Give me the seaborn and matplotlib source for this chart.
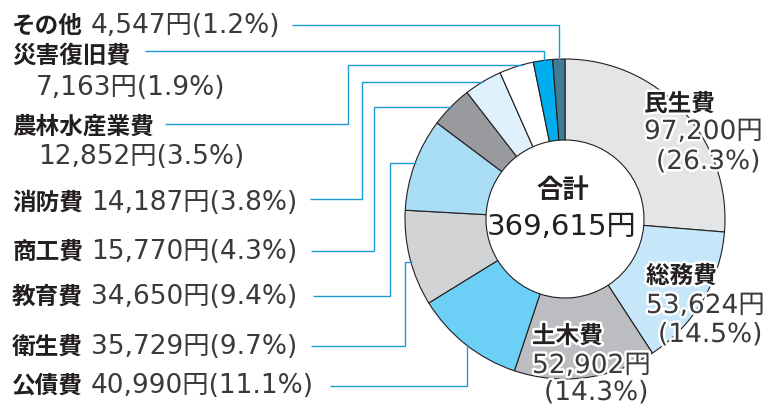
import numpy as np
import matplotlib
matplotlib.use("Agg")
import matplotlib.pyplot as plt
import matplotlib.patheffects as pe
import seaborn as sns

# ---- data (clockwise from 12 o'clock) ----
categories = ["民生費", "総務費", "土木費", "公債費", "衛生費", "教育費",
              "商工費", "消防費", "農林水産業費", "災害復旧費", "その他"]
amounts = [97200, 53624, 52902, 40990, 35729, 34650,
           15770, 14187, 12852, 7163, 4547]
percents = [26.3, 14.5, 14.3, 11.1, 9.7, 9.4, 4.3, 3.8, 3.5, 1.9, 1.2]
total_label = "369,615円"
colors = ["#e4e5e7", "#c6e7f9", "#bcbdc0", "#6ccff5", "#d2d3d5", "#a9dcf5",
          "#999a9d", "#dff1fc", "#ffffff", "#00adee", "#3e7d93"]

sns.set_theme(style="white")
plt.rcParams['font.family'] = ['Noto Sans CJK JP', 'DejaVu Sans']
NUM_FAMILY = ['DejaVu Sans', 'Noto Sans CJK JP']

W, H = 783, 406
fig = plt.figure(figsize=(W / 100, H / 100), dpi=100)
ax = fig.add_axes([0, 0, 1, 1])

def Y(py):
    return H - py

CX, CY, R, RIN = 565, 220, 160, 79
ax.pie(amounts, colors=colors, startangle=90, counterclock=False,
       center=(CX, Y(CY)), radius=R,
       wedgeprops=dict(width=R - RIN, edgecolor="#231f20", linewidth=0.8))
ax.set_xlim(0, W)
ax.set_ylim(0, H)
ax.set_aspect("equal")
ax.axis("off")

NAME_C = "#231f20"
NUM_C = "#3a3a3a"
LINE_C = "#1b9ad6"
FS_NAME = 17
FS_NUM = 19

def fmt_amt(i):
    return f"{amounts[i]:,}円"

def fmt_pct(i):
    return f"({percents[i]}%)"

idx = {c: i for i, c in enumerate(categories)}

# ---- left labels ----
def left_label(cat, y, x_num, y_num=None):
    i = idx[cat]
    ax.text(12, Y(y), cat, fontsize=FS_NAME, fontweight="bold", color=NAME_C,
            ha="left", va="center")
    yy = y if y_num is None else y_num
    ax.text(x_num, Y(yy), fmt_amt(i) + fmt_pct(i), fontsize=FS_NUM,
            family=NUM_FAMILY, color=NUM_C, ha="left", va="center")

left_label("その他", 26, 91)
left_label("災害復旧費", 56, 36, 88)
left_label("農林水産業費", 127, 38, 157)
left_label("消防費", 203, 91)
left_label("商工費", 252, 91)
left_label("教育費", 297, 91)
left_label("衛生費", 347, 91)
left_label("公債費", 386, 91)

# ---- leader lines ----
def ring_x(py):
    return CX - np.sqrt(R ** 2 - (py - CY) ** 2)

def ring_y(px):
    return CY - np.sqrt(R ** 2 - (px - CX) ** 2)

def ring_y_low(px):
    return CY + np.sqrt(R ** 2 - (px - CX) ** 2)

def poly(xs, ys):
    ax.plot(xs, [Y(v) for v in ys], color=LINE_C, lw=1.0,
            solid_joinstyle="miter", solid_capstyle="butt")

# その他 and 災害復旧費 : horizontal then down
poly([292, 559, 559], [26, 26, ring_y(559) + 1])
poly([145, 544, 544], [52, 52, ring_y(544) + 1])
# elbow lines: horizontal, up, right to ring
for x0, yl, xv, yt in [(165, 125, 348, 66), (310, 200, 362, 83),
                       (311, 252, 374, 108), (313, 297, 390, 164),
                       (311, 347, 405, 263)]:
    poly([x0, xv, xv, ring_x(yt) + 1], [yl, yl, yt, yt])
# 公債費 : horizontal then up
poly([330, 467, 467], [387, 387, ring_y_low(467) - 1])

# ---- inner labels ----
stroke = [pe.withStroke(linewidth=3.5, foreground="white")]

def inner_label(cat, x, y_name, y_amt, y_pct, x_pct):
    i = idx[cat]
    ax.text(x, Y(y_name), cat, fontsize=FS_NAME, fontweight="bold",
            color=NAME_C, ha="left", va="center", path_effects=stroke)
    ax.text(x, Y(y_amt), fmt_amt(i), fontsize=FS_NUM, family=NUM_FAMILY,
            color=NUM_C, ha="left", va="center", path_effects=stroke)
    ax.text(x_pct, Y(y_pct), fmt_pct(i), fontsize=FS_NUM, family=NUM_FAMILY,
            color=NUM_C, ha="left", va="center", path_effects=stroke)

inner_label("民生費", 644, 105, 133, 163, 656)
inner_label("総務費", 646, 277, 307, 336, 658)
inner_label("土木費", 532, 337, 367, 394, 544)

# ---- center ----
ax.text(CX - 2, Y(191), "合計", fontsize=19, fontweight="bold", color=NAME_C,
        ha="center", va="center")
ax.text(CX - 3, Y(227), total_label, fontsize=21, family=NUM_FAMILY,
        color=NAME_C, ha="center", va="center")

fig.savefig("out.png", dpi=100)
